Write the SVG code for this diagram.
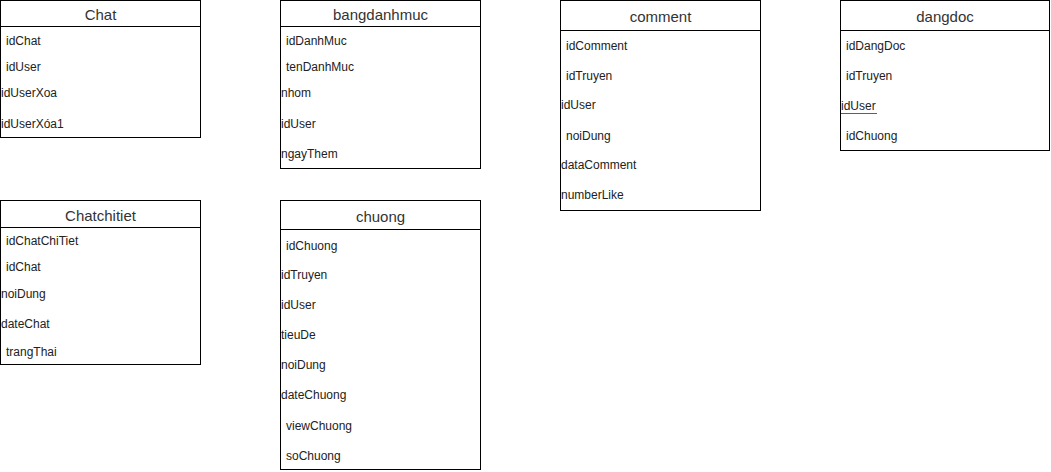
<svg xmlns="http://www.w3.org/2000/svg" width="1051" height="472" viewBox="0 0 1051 472">
  <style>
    .box { fill: #ffffff; stroke: #000000; stroke-width: 1; }
    .sep { stroke: #000000; stroke-width: 1; }
    .title { font-family: "Liberation Sans", Arial, sans-serif; font-size: 15px; fill: #333333; text-anchor: middle; }
    .field { font-family: "Liberation Sans", Arial, sans-serif; font-size: 12px; fill: #222222; }
  </style>
  <rect width="1051" height="472" fill="#ffffff"/>

  <g id="Chat">
    <rect class="box" x="0.5" y="0.5" width="200" height="137"/>
    <line class="sep" x1="0.5" y1="26.5" x2="200.5" y2="26.5"/>
    <text class="title" x="100.5" y="20">Chat</text>
    <text class="field" x="6" y="45">idChat</text>
    <text class="field" x="6" y="71">idUser</text>
    <text class="field" x="1" y="97">idUserXoa</text>
    <text class="field" x="1" y="128">idUserXóa1</text>
  </g>

  <g id="bangdanhmuc">
    <rect class="box" x="280.5" y="0.5" width="200" height="168"/>
    <line class="sep" x1="280.5" y1="26.5" x2="480.5" y2="26.5"/>
    <text class="title" x="380.5" y="20">bangdanhmuc</text>
    <text class="field" x="286" y="45">idDanhMuc</text>
    <text class="field" x="286" y="71">tenDanhMuc</text>
    <text class="field" x="281" y="97">nhom</text>
    <text class="field" x="281" y="128">idUser</text>
    <text class="field" x="281" y="158">ngayThem</text>
  </g>

  <g id="comment">
    <rect class="box" x="560.5" y="0.5" width="200" height="210"/>
    <line class="sep" x1="560.5" y1="30.5" x2="760.5" y2="30.5"/>
    <text class="title" x="660.5" y="22">comment</text>
    <text class="field" x="566" y="50">idComment</text>
    <text class="field" x="566" y="80">idTruyen</text>
    <text class="field" x="561" y="109">idUser</text>
    <text class="field" x="566" y="140">noiDung</text>
    <text class="field" x="561" y="169">dataComment</text>
    <text class="field" x="561" y="199">numberLike</text>
  </g>

  <g id="dangdoc">
    <rect class="box" x="840.5" y="0.5" width="209" height="150"/>
    <line class="sep" x1="840.5" y1="30.5" x2="1049.5" y2="30.5"/>
    <text class="title" x="945" y="22">dangdoc</text>
    <text class="field" x="846" y="50">idDangDoc</text>
    <text class="field" x="846" y="80">idTruyen</text>
    <text class="field" x="841" y="110">idUser</text>
    <line x1="841" y1="113.5" x2="877" y2="113.5" stroke="#a41cff" stroke-width="1.2"/>
    <text class="field" x="846" y="140">idChuong</text>
  </g>

  <g id="Chatchitiet">
    <rect class="box" x="0.5" y="200.5" width="200" height="164"/>
    <line class="sep" x1="0.5" y1="227.5" x2="200.5" y2="227.5"/>
    <text class="title" x="100.5" y="221">Chatchitiet</text>
    <text class="field" x="6" y="245">idChatChiTiet</text>
    <text class="field" x="6" y="271">idChat</text>
    <text class="field" x="1" y="298">noiDung</text>
    <text class="field" x="1" y="328">dateChat</text>
    <text class="field" x="6" y="356">trangThai</text>
  </g>

  <g id="chuong">
    <rect class="box" x="280.5" y="200.5" width="200" height="269"/>
    <line class="sep" x1="280.5" y1="229.5" x2="480.5" y2="229.5"/>
    <text class="title" x="380.5" y="222">chuong</text>
    <text class="field" x="286" y="250">idChuong</text>
    <text class="field" x="281" y="279">idTruyen</text>
    <text class="field" x="281" y="309">idUser</text>
    <text class="field" x="281" y="339">tieuDe</text>
    <text class="field" x="281" y="369">noiDung</text>
    <text class="field" x="281" y="399">dateChuong</text>
    <text class="field" x="286" y="430">viewChuong</text>
    <text class="field" x="286" y="460">soChuong</text>
  </g>

  <g id="connectors"></g>
</svg>
